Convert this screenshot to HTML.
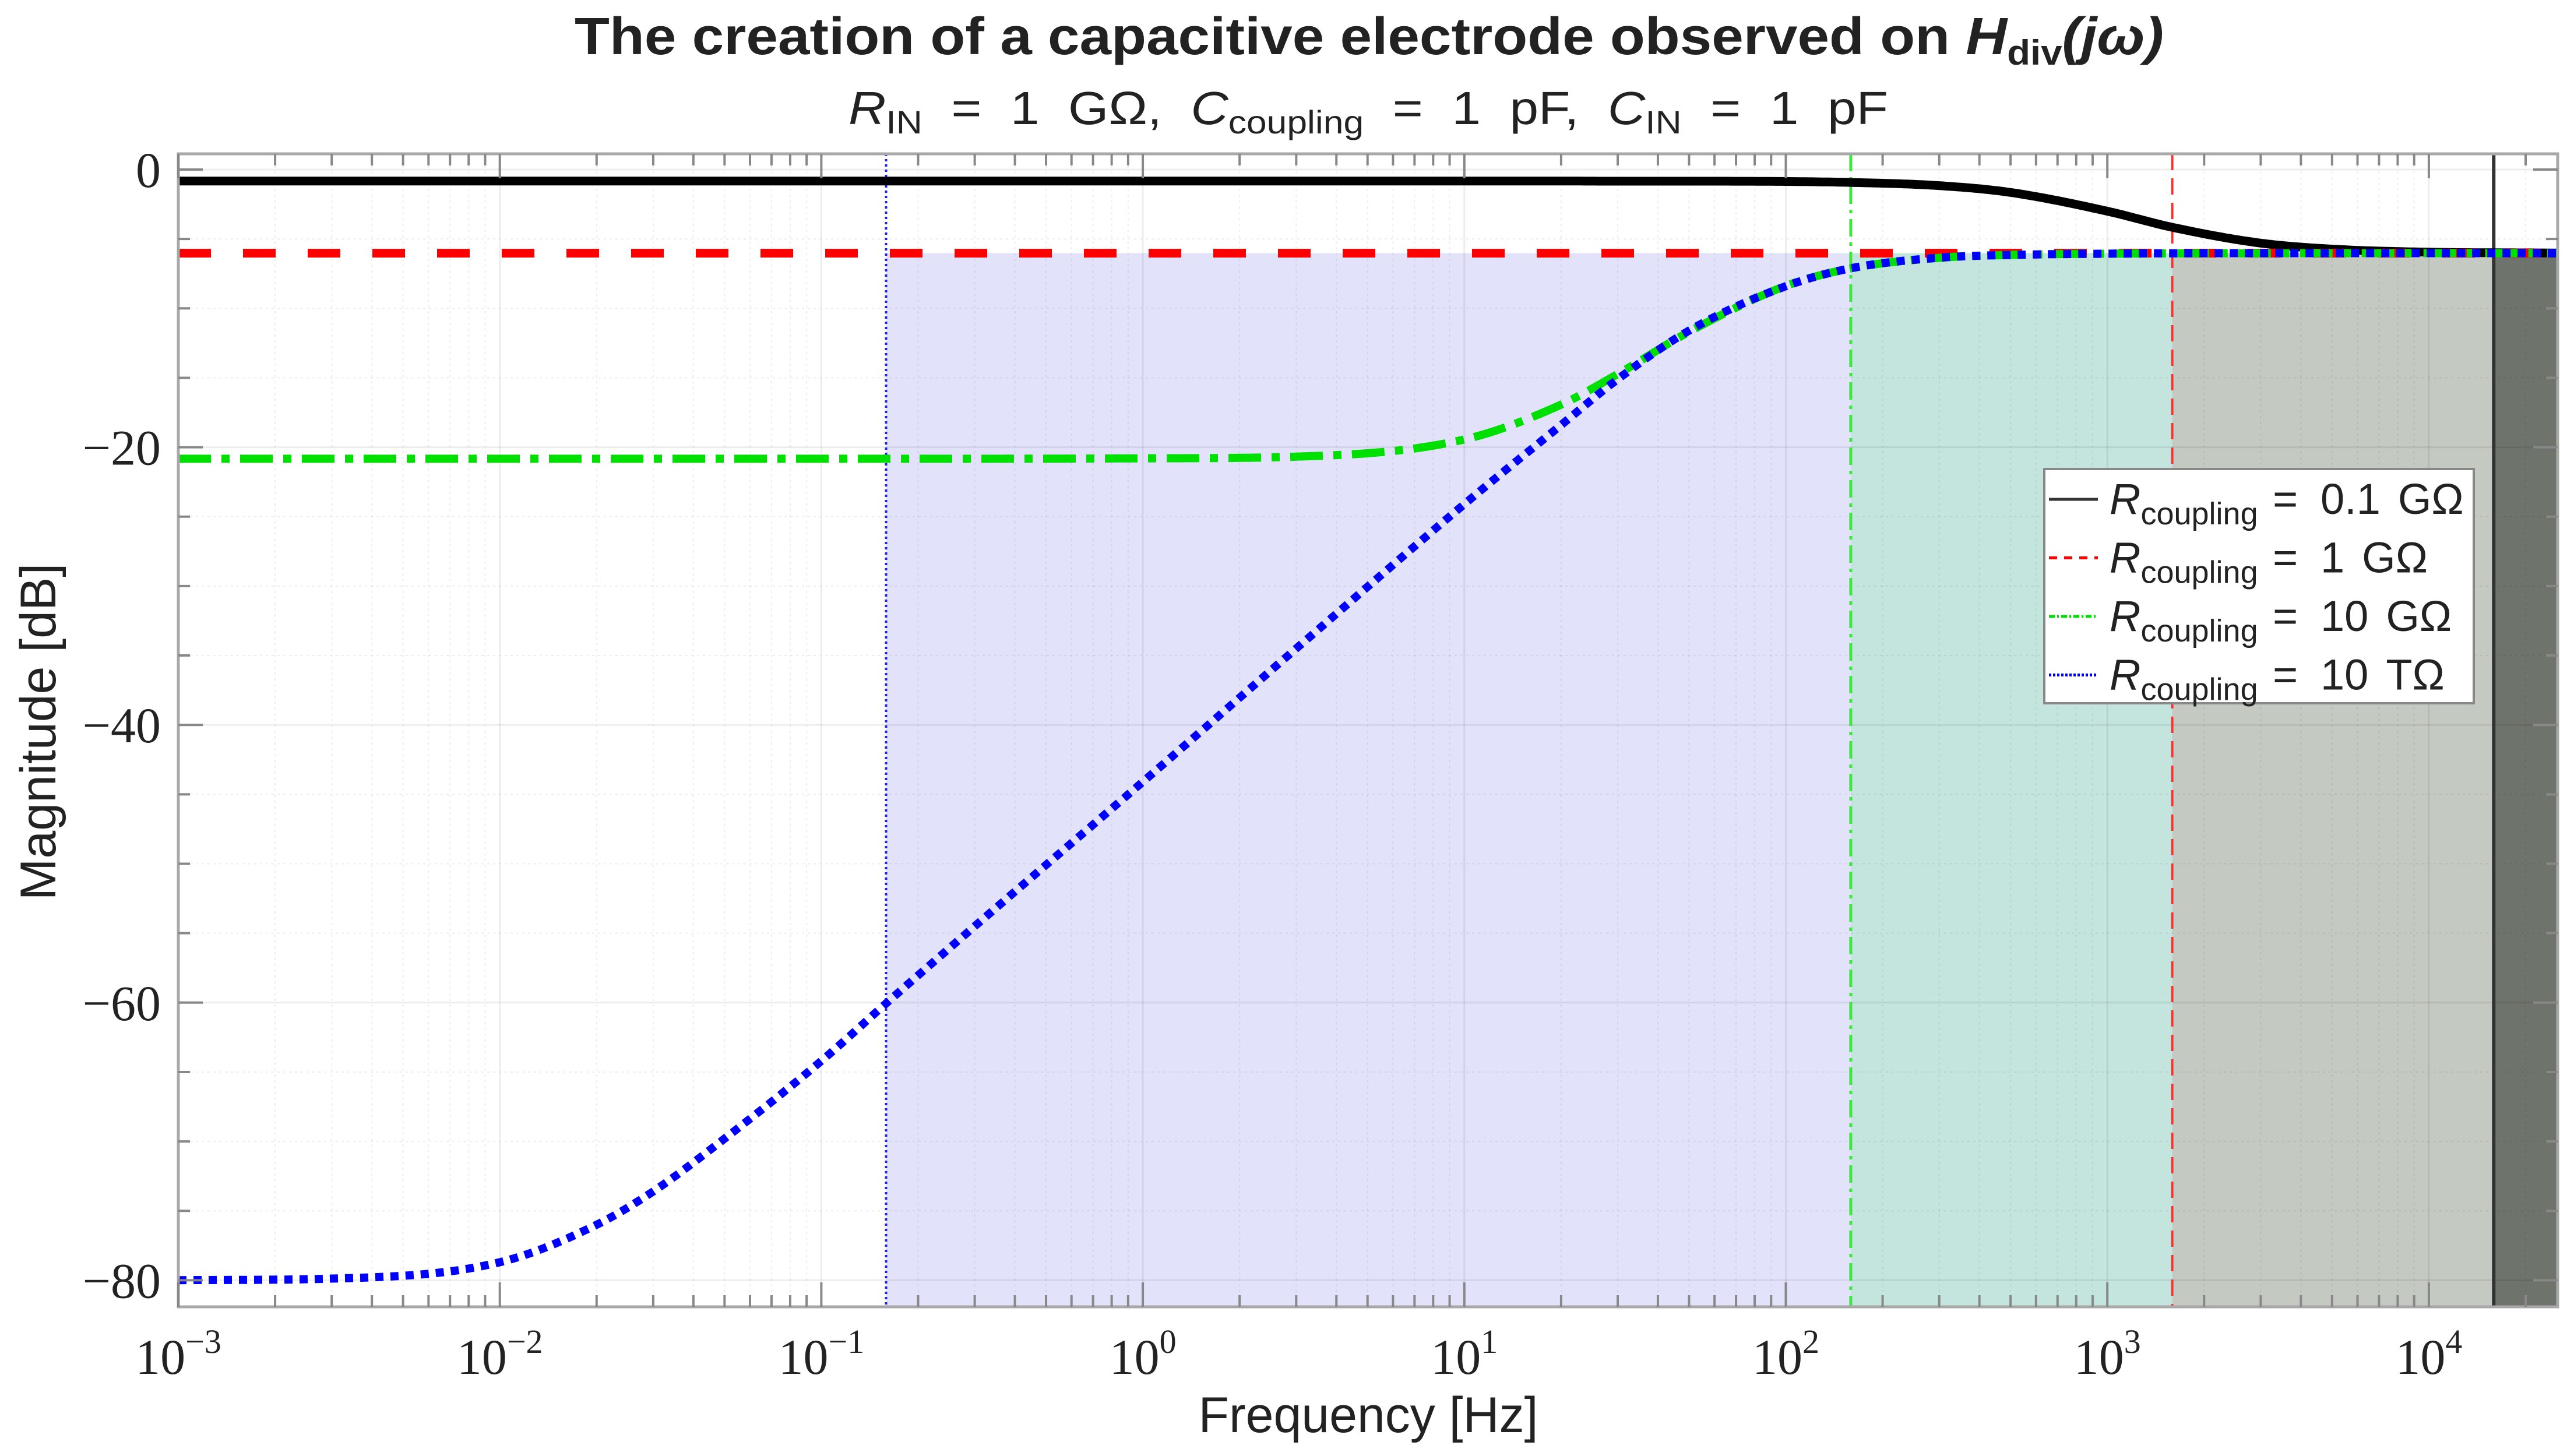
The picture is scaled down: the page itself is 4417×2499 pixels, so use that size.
<!DOCTYPE html>
<html><head><meta charset="utf-8"><style>
html,body{margin:0;padding:0;background:#fff;}
svg{display:block;}
</style></head><body>
<svg id="chart" xmlns="http://www.w3.org/2000/svg" width="4417" height="2499" viewBox="0 0 4417 2499">
<rect width="4417" height="2499" fill="#fff"/>
<g id="fills"></g>
<g id="grid"></g>
<g id="vlines"></g>
<g id="curves"></g>
<g id="axes"></g>
<text x="986" y="93" textLength="2727" lengthAdjust="spacingAndGlyphs" font-family="Liberation Sans, sans-serif" font-weight="bold" font-size="90" fill="#222">The creation of a capacitive electrode observed on <tspan font-style="italic">H</tspan><tspan font-size="60" dy="18">div</tspan><tspan dy="-18" font-style="italic">(jω)</tspan></text>
<text x="1456" y="213" textLength="1784" lengthAdjust="spacingAndGlyphs" font-family="Liberation Sans, sans-serif" font-size="80" fill="#222" xml:space="preserve"><tspan font-style="italic">R</tspan><tspan font-size="56" dy="16">IN</tspan><tspan dy="-16">  =  1  GΩ,  </tspan><tspan font-style="italic">C</tspan><tspan font-size="56" dy="16">coupling</tspan><tspan dy="-16">  =  1  pF,  </tspan><tspan font-style="italic">C</tspan><tspan font-size="56" dy="16">IN</tspan><tspan dy="-16">  =  1  pF</tspan></text>
<text x="2348" y="2458" text-anchor="middle" font-family="Liberation Sans, sans-serif" font-size="86" fill="#222">Frequency [Hz]</text>
<text transform="translate(95,1256) rotate(-90)" text-anchor="middle" font-family="Liberation Sans, sans-serif" font-size="86" fill="#222">Magnitude [dB]</text>
<g id="legend"></g>
</svg>
<script>
// ---- data ----
const freqs = [1e-3, 3e-3, 1e-2, 2e-2, 3e-2, 5e-2, 0.1, 0.16, 0.3, 1, 3, 10, 20, 30, 50, 100, 160, 300, 500, 1000, 1600, 3000, 5000, 1e4, 2.5e4];
const black01G = [-0.83,-0.83,-0.83,-0.83,-0.83,-0.83,-0.83,-0.83,-0.83,-0.83,-0.83,-0.83,-0.83,-0.84,-0.84,-0.86,-0.93,-1.16,-1.65,-3.0,-4.17,-5.30,-5.73,-5.95,-6.01];
const red1G = [-6.02,-6.02,-6.02,-6.02,-6.02,-6.02,-6.02,-6.02,-6.02,-6.02,-6.02,-6.02,-6.02,-6.02,-6.02,-6.02,-6.02,-6.02,-6.02,-6.02,-6.02,-6.02,-6.02,-6.02,-6.02];
const green10G = [-20.83,-20.83,-20.83,-20.83,-20.83,-20.83,-20.83,-20.83,-20.83,-20.8,-20.68,-19.44,-16.93,-14.73,-11.69,-8.38,-7.11,-6.36,-6.15,-6.06,-6.04,-6.03,-6.02,-6.02,-6.02];
const blue10T = [-79.99,-79.88,-78.7,-76.0,-73.6,-69.8,-64.2,-60.0,-54.5,-44.1,-34.5,-24.1,-18.4,-15.1,-11.6,-8.4,-7.1,-6.35,-6.15,-6.06,-6.03,-6.02,-6.02,-6.02,-6.02];
const cutoffFreqs = [0.159, 159.2, 1592, 15915];
const xTickExps = [-3,-2,-1,0,1,2,3,4];
const yTicks = [0,-20,-40,-60,-80];
const legendLabels = ["0.1","1","10","10"];
const legendUnits = ["GΩ","GΩ","GΩ","TΩ"];

// ---- axes ----
const L=306, R=4389, T=264, B=2243;
const X0=306, DEC=551.7; // 1e-3 at X0
const Y0=291, PDB=23.83;
const X = f => X0 + (Math.log10(f)+3)*DEC;
const Y = d => Y0 - d*PDB;
const NS="http://www.w3.org/2000/svg";
function mk(tag, attrs, parent){const e=document.createElementNS(NS,tag);for(const k in attrs)e.setAttribute(k,attrs[k]);parent.appendChild(e);return e;}
const fills=document.getElementById('fills'), grid=document.getElementById('grid'),
 vl=document.getElementById('vlines'), cv=document.getElementById('curves'), ax=document.getElementById('axes'), lg=document.getElementById('legend');

// shaded regions
const regionColors=['#e2e2fb','#c3e5dd','#c4c9c1','#6e736b'];
const regionNames=['passband-region-blue','passband-region-green','passband-region-red','passband-region-black'];
const edges=[cutoffFreqs[0],cutoffFreqs[1],cutoffFreqs[2],cutoffFreqs[3]];
for(let i=0;i<4;i++){
  const x1=X(edges[i]), x2= i<3? X(edges[i+1]) : R;
  const r=mk('rect',{x:x1,y:Y(-6.02),width:x2-x1,height:B-Y(-6.02),fill:regionColors[i]},fills);
  
  
}
// grid
for(let e=-3;e<=4;e++){
  for(let m=1;m<=9;m++){
    const x=X(m*Math.pow(10,e)); if(x>R) continue;
    if(m===1){const g=mk('line',{x1:x,x2:x,y1:T,y2:B,stroke:'rgba(0,0,0,0.07)','stroke-width':3},grid);}
    else {const g=mk('line',{x1:x,x2:x,y1:T,y2:B,stroke:'rgba(0,0,0,0.07)','stroke-width':2,'stroke-dasharray':'4 6'},grid);}
  }
}
for(let d=0;d>=-80;d-=5){
  const y=Y(d);
  if(d%20===0){const g=mk('line',{x1:L,x2:R,y1:y,y2:y,stroke:'rgba(0,0,0,0.07)','stroke-width':3},grid);}
  else {const g=mk('line',{x1:L,x2:R,y1:y,y2:y,stroke:'rgba(0,0,0,0.07)','stroke-width':2,'stroke-dasharray':'4 6'},grid);}
}
// cutoff vertical lines
const vStyles=[{s:'#2020ff',w:4,d:'4 5'},{s:'#3ce83c',w:5,d:'30 10 6 10'},{s:'#ff3030',w:4,d:'28 14'},{s:'#333',w:6,d:''}];
const vNames=['cutoff-line-10T','cutoff-line-10G','cutoff-line-1G','cutoff-line-01G'];
cutoffFreqs.forEach((f,i)=>{
  const a={x1:X(f),x2:X(f),y1:T,y2:B,stroke:vStyles[i].s,'stroke-width':vStyles[i].w};
  if(vStyles[i].d)a['stroke-dasharray']=vStyles[i].d;
  const l=mk('line',a,vl);
  
  
});
// monotone cubic interpolation in log-f space
function pathFor(vals){
  const xs=freqs.map(f=>Math.log10(f)), n=xs.length;
  const d=[],m=new Array(n);
  for(let i=0;i<n-1;i++)d.push((vals[i+1]-vals[i])/(xs[i+1]-xs[i]));
  m[0]=d[0];m[n-1]=d[n-2];
  for(let i=1;i<n-1;i++){m[i]=(d[i-1]*d[i]<=0)?0:(d[i-1]+d[i])/2;}
  for(let i=0;i<n-1;i++){ if(d[i]===0){m[i]=0;m[i+1]=0;continue;}
    const a=m[i]/d[i],b=m[i+1]/d[i],s=a*a+b*b; if(s>9){const t=3/Math.sqrt(s);m[i]=t*a*d[i];m[i+1]=t*b*d[i];}}
  let p='';
  for(let i=0;i<n-1;i++){const h=xs[i+1]-xs[i];
    for(let k=0;k<=20;k++){ if(i>0&&k===0)continue; const t=k/20,t2=t*t,t3=t2*t;
      const v=(2*t3-3*t2+1)*vals[i]+(t3-2*t2+t)*h*m[i]+(-2*t3+3*t2)*vals[i+1]+(t3-t2)*h*m[i+1];
      const xx=X(Math.pow(10,xs[i]+t*h)); if(xx>R+1)continue;
      p+=(p?'L':'M')+xx.toFixed(1)+','+Y(v).toFixed(1);}
  }
  return p;
}
const series=[
 {v:black01G,s:'#000',w:15,d:'',n:'curve-rcoupling-0-1g'},
 {v:red1G,s:'#ff0000',w:15,d:'56 55',n:'curve-rcoupling-1g'},
 {v:green10G,s:'#00e000',w:14,d:'56 18 14 18',n:'curve-rcoupling-10g'},
 {v:blue10T,s:'#0000ff',w:14,d:'14 12',n:'curve-rcoupling-10t'}];
series.forEach(sr=>{
  const a={d:pathFor(sr.v),fill:'none',stroke:sr.s,'stroke-width':sr.w};
  if(sr.d)a['stroke-dasharray']=sr.d;
  const p=mk('path',a,cv);
  
  
});
// axes box
const box=mk('rect',{x:L,y:T,width:R-L,height:B-T,fill:'none',stroke:'#a8a8a8','stroke-width':5},ax);


// x ticks
for(let e=-3;e<=4;e++){
  for(let m=1;m<=9;m++){
    const x=X(m*Math.pow(10,e)); if(x>R) continue;
    const len=m===1?42:20;
    mk('line',{x1:x,x2:x,y1:B,y2:B-len,stroke:'#888','stroke-width':4},ax);
    mk('line',{x1:x,x2:x,y1:T,y2:T+len,stroke:'#888','stroke-width':4},ax);
  }
}
xTickExps.forEach(e=>{
  const t=mk('text',{x:X(Math.pow(10,e)),y:2358,'text-anchor':'middle','font-family':'Liberation Serif, serif','font-size':86,fill:'#222'},ax);
  
  
  const a=document.createElementNS(NS,'tspan');a.textContent='10';t.appendChild(a);
  const b=document.createElementNS(NS,'tspan');b.setAttribute('font-size','58');b.setAttribute('dy','-36');b.textContent=(e<0?'−':'')+Math.abs(e);t.appendChild(b);
});
// y ticks
for(let d=0;d>=-80;d-=5){
  const y=Y(d), len=(d%20===0)?42:20;
  mk('line',{x1:L,x2:L+len,y1:y,y2:y,stroke:'#888','stroke-width':4},ax);
  mk('line',{x1:R,x2:R-len,y1:y,y2:y,stroke:'#888','stroke-width':4},ax);
}
yTicks.forEach(d=>{
  const t=mk('text',{x:276,y:Y(d)+30,'text-anchor':'end','font-family':'Liberation Serif, serif','font-size':86,fill:'#222'},ax);
  
  
  t.textContent=d===0?'0':'−'+Math.abs(d);
});
// legend
const lb=mk('rect',{x:3508,y:805,width:737,height:402,fill:'#fff',stroke:'#888','stroke-width':4},lg);


series.forEach((sr,i)=>{
  const cy=857+i*100.5;
  const a={x1:3516,x2:3600,y1:cy,y2:cy,stroke:sr.s,'stroke-width':5};
  if(sr.d)a['stroke-dasharray']=i===1?'14 12':(i===2?'10 4 3 4':'4 3');
  if(i===0)a.stroke='#333';
  const ln=mk('line',a,lg);
  
  
  const t=mk('text',{x:3620,y:cy+25,'font-family':'Liberation Sans, sans-serif','font-size':74,fill:'#222'},lg);
  
  
  const r=document.createElementNS(NS,'tspan');r.setAttribute('font-style','italic');r.textContent='R';t.appendChild(r);
  const s=document.createElementNS(NS,'tspan');s.setAttribute('font-size','54');s.setAttribute('dy','18');s.textContent='coupling';t.appendChild(s);
  const q=document.createElementNS(NS,'tspan');q.setAttribute('x','3900');q.setAttribute('dy','-18');q.textContent='=';t.appendChild(q);
  const v=document.createElementNS(NS,'tspan');v.setAttribute('x','3982');v.textContent=legendLabels[i];t.appendChild(v);
  const u=document.createElementNS(NS,'tspan');u.setAttribute('dx','30');u.textContent=legendUnits[i];t.appendChild(u);
});
</script>
</body></html>
